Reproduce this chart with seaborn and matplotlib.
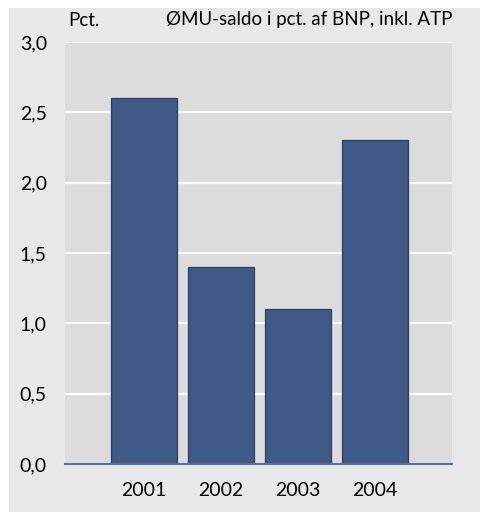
import matplotlib
matplotlib.use("Agg")
import matplotlib.pyplot as plt
import seaborn as sns
import pandas as pd
from matplotlib.patches import Rectangle
from matplotlib.ticker import FuncFormatter

years = ["2001", "2002", "2003", "2004"]
values = [2.6, 1.4, 1.1, 2.3]
yticks = [0.0, 0.5, 1.0, 1.5, 2.0, 2.5, 3.0]
title = "ØMU-saldo i pct. af BNP, inkl. ATP"
unit = "Pct."

sns.set_theme(style="white")
plt.rcParams['font.family'] = ['Lato', 'DejaVu Sans']
plt.rcParams['text.color'] = 'black'

FS = 14
FS_T = 13.5

fig = plt.figure(figsize=(4.8, 5.12), dpi=100, facecolor="white")
fig.patches.append(Rectangle((9/480, 0), 1 - 9/480, 1 - 8/512, transform=fig.transFigure,
                             facecolor="#e8e8e8", edgecolor="none", zorder=-10))

ax = fig.add_axes([65/480, 48/512, 387/480, 422/512])
ax.set_facecolor("#dcdcdc")

df = pd.DataFrame({"year": years, "value": values})
sns.barplot(data=df, x="year", y="value", ax=ax, color="#3f5a86", saturation=1,
            width=0.86, edgecolor="#2e3f5e", linewidth=0.9, zorder=3)

ax.set_ylim(0, 3.0)
ax.set_xlim(-1.03, 4.0)
ax.set_yticks(yticks)
ax.yaxis.set_major_formatter(FuncFormatter(lambda v, p: f"{v:.1f}".replace(".", ",")))
ax.grid(axis="y", color="white", linewidth=1.6, zorder=1)
ax.set_axisbelow(True)
for s in ["top", "right", "left"]:
    ax.spines[s].set_visible(False)
ax.spines["bottom"].set_color("#5a6e90")
ax.spines["bottom"].set_linewidth(1.5)
ax.spines["bottom"].set_zorder(5)
ax.tick_params(axis="y", length=0, pad=13, labelsize=FS, colors="black")
ax.tick_params(axis="x", length=0, pad=13, labelsize=FS, colors="black")
ax.set_xlabel("")
ax.set_ylabel("")

fig.text(68/480, 1 - 20/512, unit, ha="left", va="center", fontsize=FS_T, color="black")
fig.text(452/480, 1 - 20/512, title, ha="right", va="center", fontsize=FS_T, color="black")

fig.savefig("out.png", dpi=100, facecolor="white")
